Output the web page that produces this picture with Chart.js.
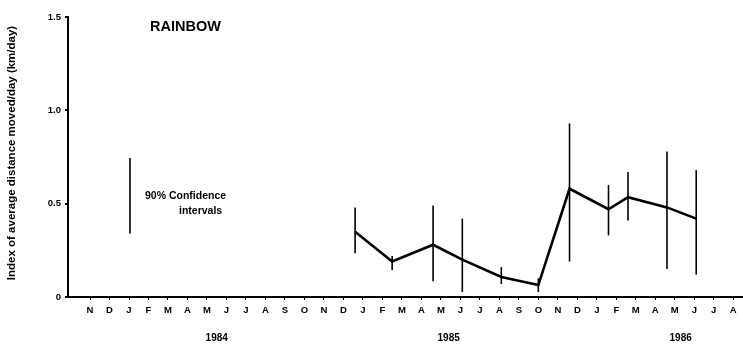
<!DOCTYPE html>
<html>
<head>
<meta charset="utf-8">
<script src="https://cdn.jsdelivr.net/npm/chart.js@4"></script>
<style>
  html, body { margin: 0; padding: 0; background: #fff; }
  #wrap { width: 743px; height: 349px; }
</style>
</head>
<body>
<div id="wrap"><canvas id="chart" width="743" height="349"></canvas></div>
<script>
// month index 0 = Nov 1983
const monthLabels = ["N","D","J","F","M","A","M","J","J","A","S","O","N","D",
  "J","F","M","A","M","J","J","A","S","O","N","D","J","F","M","A","M","J","J","A"];
const yearLabels = ["1984", "1985", "1986"];
const yearPos = [6.5, 18.4, 30.3];

// sampling dates (month index) and index of distance moved
const sampleX = [13.6, 15.5, 17.6, 19.1, 21.1, 23.0, 24.6, 26.6, 27.6, 29.6, 31.1];
const meanVal = [0.35, 0.19, 0.28, 0.20, 0.107, 0.064, 0.58, 0.47, 0.535, 0.48, 0.42];
const lowVal  = [0.235, 0.145, 0.085, 0.027, 0.07, 0.027, 0.19, 0.33, 0.41, 0.15, 0.12];
const highVal = [0.48, 0.22, 0.49, 0.42, 0.16, 0.10, 0.93, 0.60, 0.67, 0.78, 0.68];

// legend sample bar
const keyX = 2.05;
const keyLow = 0.34;
const keyHigh = 0.745;

const FONT = "'Liberation Sans', Arial, sans-serif";

const datasets = [{
  data: sampleX.map((x, i) => ({ x: x, y: meanVal[i] })),
  borderColor: "#000",
  borderWidth: 2.6,
  pointRadius: 0,
  tension: 0
}];
sampleX.forEach((x, i) => {
  datasets.push({
    data: [{ x: x, y: lowVal[i] }, { x: x, y: highVal[i] }],
    borderColor: "#000",
    borderWidth: 1.6,
    pointRadius: 0
  });
});
datasets.push({
  data: [{ x: keyX, y: keyLow }, { x: keyX, y: keyHigh }],
  borderColor: "#000",
  borderWidth: 1.6,
  pointRadius: 0
});

const extraText = {
  id: "extraText",
  afterDraw(chart) {
    const ctx = chart.ctx;
    const xs = chart.scales.x;
    ctx.save();
    ctx.fillStyle = "#000";
    ctx.textBaseline = "middle";
    // title
    ctx.font = "bold 14.5px " + FONT;
    ctx.textAlign = "left";
    ctx.fillText("RAINBOW", 150, 27);
    // key text
    ctx.font = "bold 10.5px " + FONT;
    ctx.fillText("90% Confidence", 145, 196);
    ctx.fillText("intervals", 179, 211);
    // years
    ctx.font = "bold 10px " + FONT;
    ctx.textAlign = "center";
    yearLabels.forEach((t, i) => ctx.fillText(t, xs.getPixelForValue(yearPos[i]), 338));
    // y title
    ctx.translate(12, 153);
    ctx.rotate(-Math.PI / 2);
    ctx.font = "bold 11.5px " + FONT;
    ctx.fillText("Index of average distance moved/day (km/day)", 0, 0);
    ctx.restore();
  }
};

new Chart(document.getElementById("chart"), {
  type: "line",
  data: { datasets: datasets },
  options: {
    responsive: false,
    animation: false,
    layout: { padding: { top: 17, right: 0, left: 0, bottom: 0 } },
    plugins: { legend: { display: false }, tooltip: { enabled: false } },
    scales: {
      x: {
        type: "linear",
        min: -1.13,
        max: 33.5,
        afterBuildTicks: (s) => { s.ticks = monthLabels.map((m, i) => ({ value: i })); },
        afterFit: (s) => { s.height = 52; },
        border: { color: "#000", width: 2 },
        grid: { drawOnChartArea: false, color: "#000", tickLength: 3, lineWidth: 1 },
        ticks: {
          autoSkip: false,
          maxRotation: 0,
          padding: 5,
          color: "#000",
          font: { family: FONT, size: 9.5, weight: "bold" },
          callback: (v) => monthLabels[v] || ""
        }
      },
      y: {
        min: 0,
        max: 1.5,
        afterBuildTicks: (s) => { s.ticks = [0, 0.5, 1.0, 1.5].map(v => ({ value: v })); },
        afterFit: (s) => { s.width = 68; },
        border: { color: "#000", width: 2 },
        grid: { drawOnChartArea: false, color: "#000", tickLength: 3, lineWidth: 2 },
        ticks: {
          padding: 4,
          color: "#000",
          font: { family: FONT, size: 9.5, weight: "bold" },
          callback: (v) => v === 0 ? "0" : v.toFixed(1)
        }
      }
    }
  },
  plugins: [extraText]
});
</script>
</body>
</html>
